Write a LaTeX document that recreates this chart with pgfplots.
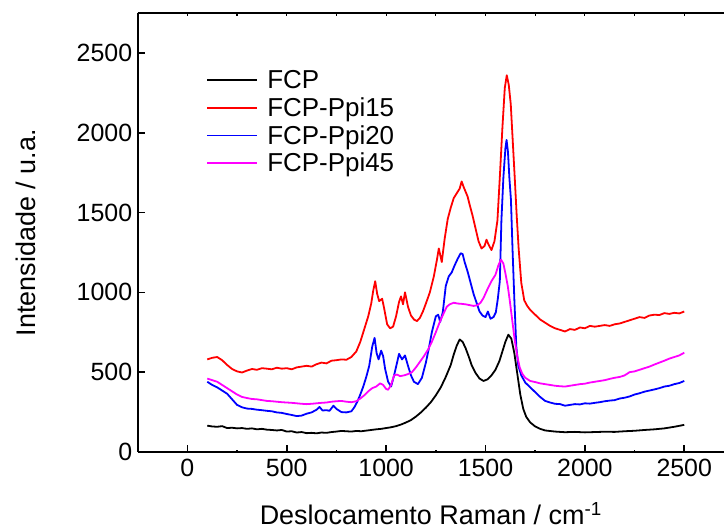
\documentclass[border=0pt]{standalone}
\usepackage{pgfplots}
\pgfplotsset{compat=1.18}
\usepackage{fontspec}
\setmainfont{Liberation Sans}
\definecolor{cred}{RGB}{255,0,0}
\definecolor{cblue}{RGB}{0,0,255}
\definecolor{cmag}{RGB}{255,0,255}
\begin{document}
\begin{tikzpicture}
\begin{axis}[
  scale only axis,
  width=587.6pt, height=439.5pt,
  xmin=-250, xmax=2700, ymin=0, ymax=2747,
  axis x line*=bottom, axis y line*=left,
  axis line style={line width=2pt, -},
  xtick={0,500,...,2500}, ytick={0,500,...,2500},
  minor xtick={250,750,...,2750},
  tick align=inside,
  major tick length=7pt, minor tick length=2.5pt,
  every tick/.style={black, line width=1.6pt},
  /pgf/number format/assume math mode=true,
  /pgf/number format/1000 sep={},
  tick label style={font=\fontsize{25}{29}\selectfont},
  xticklabel style={yshift=-4pt},
  yticklabel style={xshift=-2pt},
  xlabel={Deslocamento Raman / cm\textsuperscript{-1}},
  ylabel={Intensidade / u.a.},
  label style={font=\fontsize{27}{31}\selectfont},
  xlabel style={yshift=-21pt, inner sep=1pt},
  ylabel style={yshift=34pt},
  legend cell align=left,
  legend style={draw=none, fill=none, at={(0.117,0.875)}, anchor=north west,
    font=\fontsize{26}{28}\selectfont, row sep=3.5pt, inner sep=0pt},
  legend image code/.code={\draw[#1, line width=2pt] (0pt,0pt) -- (50pt,0pt); \path (57pt,0pt);},
  every axis plot/.append style={line width=1.8pt, line join=round},
]
\coordinate (O) at (rel axis cs:0,0);
\addplot[black] coordinates {
(100,165)(125,160)(150,158)(175,162)(200,150)(225,152)(250,148)(275,150)(300,145)(325,148)(350,142)(375,145)(400,140)(425,138)(450,135)(475,138)(500,128)(525,130)(550,122)(575,125)(600,118)(625,120)(650,117)(675,122)(700,120)(725,125)(750,128)(775,132)(800,130)(825,128)(850,132)(875,130)(900,134)(925,138)(950,142)(975,145)(1000,150)(1025,155)(1050,162)(1075,172)(1100,185)(1125,200)(1150,222)(1175,248)(1200,278)(1225,312)(1250,355)(1275,405)(1300,470)(1325,545)(1340,610)(1355,665)(1370,705)(1385,690)(1400,650)(1415,600)(1430,545)(1450,495)(1470,460)(1490,445)(1510,455)(1530,480)(1550,515)(1570,570)(1585,630)(1600,690)(1615,735)(1630,710)(1645,620)(1660,490)(1675,360)(1690,270)(1705,220)(1725,185)(1750,160)(1775,145)(1800,135)(1850,128)(1900,124)(1950,126)(2000,123)(2050,125)(2100,127)(2150,126)(2200,130)(2250,133)(2300,138)(2350,142)(2400,148)(2450,158)(2500,170)
};
\addlegendentry{FCP}
\addplot[cred] coordinates {
(100,580)(125,590)(150,595)(175,575)(200,545)(225,520)(250,505)(275,498)(300,510)(325,520)(350,515)(375,525)(400,522)(425,518)(450,528)(475,522)(500,525)(525,518)(550,530)(575,535)(600,540)(625,535)(650,550)(675,560)(700,555)(725,572)(750,575)(775,580)(800,578)(825,595)(850,630)(870,690)(890,770)(910,850)(925,930)(935,1010)(945,1070)(955,990)(965,945)(980,960)(990,900)(1005,800)(1020,775)(1035,785)(1050,850)(1065,940)(1075,975)(1085,925)(1095,1000)(1110,910)(1125,855)(1140,830)(1155,820)(1170,840)(1185,880)(1200,930)(1220,1000)(1240,1100)(1255,1200)(1265,1275)(1280,1190)(1295,1340)(1310,1460)(1325,1530)(1340,1590)(1355,1620)(1370,1650)(1380,1695)(1390,1660)(1400,1630)(1410,1600)(1420,1550)(1435,1480)(1450,1400)(1465,1320)(1480,1275)(1495,1290)(1505,1330)(1515,1300)(1530,1265)(1545,1320)(1560,1450)(1572,1720)(1585,2030)(1597,2280)(1607,2360)(1617,2300)(1627,2180)(1637,1950)(1647,1720)(1657,1480)(1667,1270)(1680,1060)(1695,950)(1710,915)(1725,890)(1750,860)(1775,830)(1800,810)(1825,790)(1850,775)(1875,765)(1900,755)(1925,770)(1950,765)(1975,780)(2000,775)(2025,790)(2050,785)(2075,790)(2100,795)(2125,790)(2150,800)(2175,805)(2200,815)(2225,825)(2250,835)(2275,845)(2300,840)(2325,855)(2350,860)(2375,858)(2400,870)(2425,865)(2450,872)(2475,868)(2500,880)
};
\addlegendentry{FCP-Ppi15}
\addplot[cblue] coordinates {
(100,440)(125,420)(150,405)(175,385)(200,365)(225,330)(250,295)(275,280)(300,272)(325,270)(350,265)(375,262)(400,258)(425,255)(450,248)(475,245)(500,238)(525,232)(550,225)(575,228)(600,240)(625,248)(650,265)(665,282)(680,260)(700,262)(715,258)(735,290)(750,270)(775,250)(800,248)(825,255)(840,280)(855,315)(870,360)(885,410)(900,470)(915,540)(930,660)(942,715)(952,620)(962,580)(975,635)(985,600)(995,520)(1010,440)(1025,410)(1040,480)(1055,560)(1065,615)(1080,580)(1095,605)(1110,540)(1125,480)(1140,440)(1160,425)(1180,465)(1200,560)(1215,650)(1230,750)(1250,850)(1262,860)(1272,815)(1285,875)(1300,1040)(1315,1100)(1330,1125)(1345,1170)(1360,1210)(1375,1245)(1385,1240)(1395,1190)(1410,1130)(1425,1060)(1440,990)(1455,935)(1470,880)(1485,855)(1500,845)(1512,880)(1525,835)(1540,845)(1552,875)(1562,960)(1572,1070)(1580,1450)(1590,1720)(1600,1900)(1606,1955)(1613,1880)(1620,1720)(1628,1580)(1636,1270)(1645,960)(1655,660)(1665,540)(1680,480)(1700,435)(1725,405)(1750,375)(1775,345)(1800,320)(1825,310)(1850,302)(1875,300)(1900,290)(1925,295)(1950,300)(1975,298)(2000,305)(2025,303)(2050,308)(2075,312)(2100,318)(2125,322)(2150,325)(2175,335)(2200,340)(2225,348)(2250,360)(2275,368)(2300,378)(2325,385)(2350,392)(2375,400)(2400,410)(2425,415)(2450,425)(2475,432)(2500,445)
};
\addlegendentry{FCP-Ppi20}
\addplot[cmag] coordinates {
(100,460)(125,450)(150,440)(175,420)(200,400)(225,380)(250,360)(275,345)(300,338)(325,332)(350,330)(375,325)(400,320)(425,318)(450,315)(475,312)(500,310)(525,308)(550,305)(575,302)(600,300)(625,302)(650,305)(675,308)(700,310)(725,315)(750,318)(775,320)(800,315)(825,312)(850,318)(870,335)(890,355)(910,380)(930,400)(950,410)(970,430)(985,420)(1000,395)(1010,390)(1025,420)(1040,480)(1055,485)(1070,475)(1090,480)(1110,488)(1130,500)(1150,530)(1170,565)(1190,600)(1210,640)(1230,690)(1250,750)(1270,815)(1290,870)(1305,910)(1320,925)(1340,935)(1360,930)(1380,928)(1400,925)(1420,920)(1440,915)(1460,920)(1475,935)(1490,965)(1510,1020)(1530,1070)(1550,1110)(1565,1170)(1578,1205)(1590,1180)(1600,1120)(1612,1040)(1622,950)(1635,820)(1647,700)(1660,600)(1672,530)(1685,490)(1700,465)(1725,445)(1750,438)(1775,430)(1800,425)(1825,420)(1850,415)(1875,412)(1900,410)(1925,415)(1950,420)(1975,425)(2000,428)(2025,435)(2050,440)(2075,445)(2100,450)(2125,458)(2150,465)(2175,470)(2200,480)(2225,500)(2250,505)(2275,515)(2300,525)(2325,535)(2350,548)(2375,560)(2400,572)(2425,585)(2450,595)(2475,605)(2500,622)
};
\addlegendentry{FCP-Ppi45}
\end{axis}
\begin{axis}[
  scale only axis,
  width=587.6pt, height=439.5pt,
  xmin=-250, xmax=2700, ymin=0, ymax=2747,
  axis x line*=top, axis y line=none,
  axis line style={line width=2pt, -},
  xtick={0,250,...,2750}, xticklabels={},
  tick align=inside, major tick length=3pt,
  every tick/.style={black, line width=1.2pt},
]
\end{axis}
\path (O) ++(-138pt,-80pt) rectangle ++(725pt,533pt);
\end{tikzpicture}
\end{document}
